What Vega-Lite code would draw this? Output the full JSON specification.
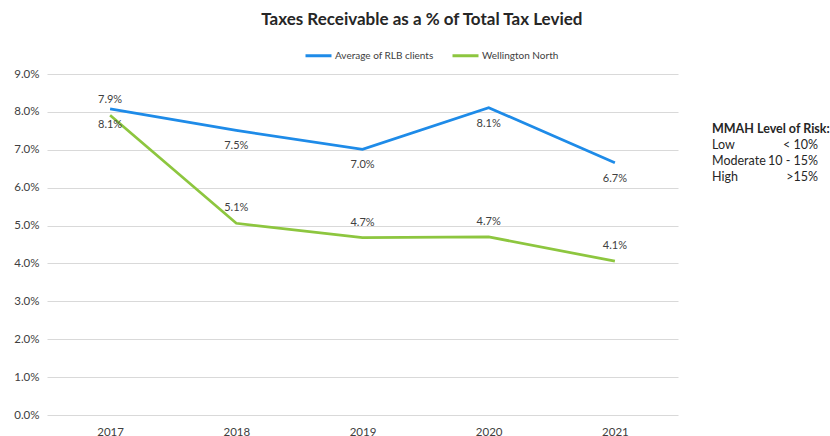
{
  "$schema": "https://vega.github.io/schema/vega-lite/v6.json",
  "background": "white",
  "padding": {"left": 13, "top": 11, "right": 5, "bottom": 5},
  "title": {"text": "Taxes Receivable as a % of Total Tax Levied", "anchor": "middle", "font": "Lato", "fontSize": 17, "fontWeight": "bold", "color": "#262626", "offset": 12},
  "config": {
    "font": "Lato",
    "view": {"stroke": null},
    "concat": {"spacing": 34},
    "text": {"font": "Lato"}
  },
  "bounds": "flush",
  "datasets": {
    "series": [
      {"year": "2017", "series": "Average of RLB clients", "value": 0.0808},
      {"year": "2018", "series": "Average of RLB clients", "value": 0.0751},
      {"year": "2019", "series": "Average of RLB clients", "value": 0.0701},
      {"year": "2020", "series": "Average of RLB clients", "value": 0.0811},
      {"year": "2021", "series": "Average of RLB clients", "value": 0.0666},
      {"year": "2017", "series": "Wellington North", "value": 0.0791},
      {"year": "2018", "series": "Wellington North", "value": 0.0506},
      {"year": "2019", "series": "Wellington North", "value": 0.0468},
      {"year": "2020", "series": "Wellington North", "value": 0.0470},
      {"year": "2021", "series": "Wellington North", "value": 0.0406}
    ],
    "risk": [
      {"row": 0, "label": "MMAH Level of Risk:", "range": ""},
      {"row": 1, "label": "Low", "range": "< 10%"},
      {"row": 2, "label": "Moderate", "range": "10 - 15%"},
      {"row": 3, "label": "High", "range": ">15%"}
    ]
  },
  "hconcat": [
    {
      "width": 631,
      "height": 341,
      "data": {"name": "series"},
      "encoding": {
        "x": {"field": "year", "type": "ordinal", "scale": {"type": "point", "padding": 0.5},
          "axis": {"title": null, "labelAngle": 0, "domain": false, "ticks": false, "labelPadding": 11, "labelFontSize": 11.5, "labelColor": "#404040", "labelFont": "Lato"}},
        "y": {"field": "value", "type": "quantitative", "scale": {"domain": [0, 0.09]},
          "axis": {"title": null, "format": ".1%", "values": [0, 0.01, 0.02, 0.03, 0.04, 0.05, 0.06, 0.07, 0.08, 0.09], "domain": false, "ticks": false, "labelPadding": 8, "labelFontSize": 11.5, "labelColor": "#404040", "labelFont": "Lato", "gridColor": "#d9d9d9", "gridWidth": 1}}
      },
      "layer": [
        {
          "mark": {"type": "line", "strokeWidth": 2.75},
          "encoding": {
            "color": {"field": "series", "type": "nominal",
              "scale": {"domain": ["Average of RLB clients", "Wellington North"], "range": ["#1E8BE8", "#8DC63F"]},
              "legend": {"title": null, "orient": "none", "direction": "horizontal", "legendX": 257, "legendY": -33,
                "symbolType": "stroke", "symbolSize": 676, "symbolStrokeWidth": 3, "labelFontSize": 10, "labelColor": "#404040", "labelFont": "Lato", "labelOffset": 2, "columnPadding": 12}}
          }
        },
        {
          "transform": [{"filter": "datum.series === 'Average of RLB clients'"}],
          "mark": {"type": "text", "dy": 16, "fontSize": 11, "color": "#404040"},
          "encoding": {"text": {"field": "value", "type": "quantitative", "format": ".1%"}}
        },
        {
          "transform": [{"filter": "datum.series === 'Wellington North'"}],
          "mark": {"type": "text", "dy": -15, "fontSize": 11, "color": "#404040"},
          "encoding": {"text": {"field": "value", "type": "quantitative", "format": ".1%"}}
        }
      ]
    },
    {
      "width": 106,
      "height": 341,
      "data": {"name": "risk"},
      "encoding": {
        "y": {"field": "row", "type": "quantitative", "scale": {"domain": [-3.377, 17.67], "reverse": true}, "axis": null}
      },
      "layer": [
        {
          "transform": [{"filter": "datum.row === 0"}],
          "mark": {"type": "text", "align": "left", "baseline": "middle", "fontSize": 12.5, "fontWeight": "bold", "color": "#262626"},
          "encoding": {
            "x": {"datum": "a", "type": "ordinal", "scale": {"type": "point", "domain": ["a", "b"], "padding": 0}, "axis": null},
            "text": {"field": "label", "type": "nominal"}
          }
        },
        {
          "transform": [{"filter": "datum.row > 0"}],
          "mark": {"type": "text", "align": "left", "baseline": "middle", "fontSize": 12.5, "color": "#262626"},
          "encoding": {
            "x": {"datum": "a", "type": "ordinal", "scale": {"type": "point", "domain": ["a", "b"], "padding": 0}, "axis": null},
            "text": {"field": "label", "type": "nominal"}
          }
        },
        {
          "transform": [{"filter": "datum.row > 0"}],
          "mark": {"type": "text", "align": "right", "baseline": "middle", "fontSize": 12.5, "color": "#262626"},
          "encoding": {
            "x": {"datum": "b", "type": "ordinal", "scale": {"type": "point", "domain": ["a", "b"], "padding": 0}, "axis": null},
            "text": {"field": "range", "type": "nominal"}
          }
        }
      ]
    }
  ]
}
